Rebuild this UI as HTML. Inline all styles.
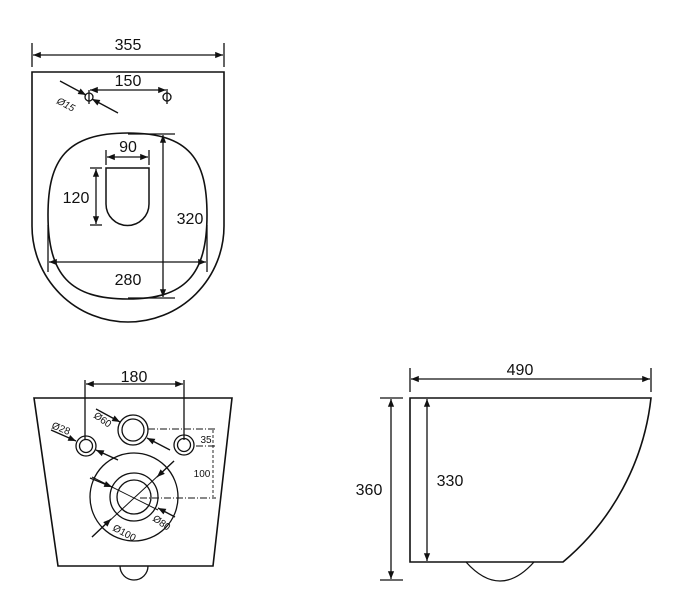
<!DOCTYPE html>
<html><head><meta charset="utf-8"><style>body{margin:0;background:#fff}svg{display:block}</style></head><body>
<svg width="685" height="600" viewBox="0 0 685 600" xmlns="http://www.w3.org/2000/svg" font-family="Liberation Sans, sans-serif" fill="none" stroke="#111" stroke-width="1.3">
<defs><marker id="a" viewBox="0 0 10 10" refX="10" refY="5" markerWidth="8" markerHeight="6" orient="auto-start-reverse"><path d="M0,1 L10,5 L0,9 z" fill="#111" stroke="none"/></marker></defs>
<path d="M32,72 H224 V226 A96,96 0 0 1 32,226 Z" stroke-width="1.6"/>
<line x1="32" y1="43" x2="32" y2="67"/><line x1="224" y1="43" x2="224" y2="67"/>
<line x1="33" y1="55" x2="223" y2="55" marker-start="url(#a)" marker-end="url(#a)"/>
<text x="128" y="50" font-size="16" fill="#111" stroke="none" text-anchor="middle">355</text>
<circle cx="89" cy="97" r="4"/><line x1="89" y1="90" x2="89" y2="104"/>
<circle cx="167" cy="97" r="4"/><line x1="167" y1="89" x2="167" y2="104"/>
<line x1="90" y1="90" x2="166" y2="90" marker-start="url(#a)" marker-end="url(#a)"/>
<text x="128" y="86" font-size="16" fill="#111" stroke="none" text-anchor="middle">150</text>
<line x1="60" y1="81" x2="86" y2="95" marker-end="url(#a)"/>
<line x1="118" y1="113" x2="92" y2="99" marker-end="url(#a)"/>
<text x="56" y="103" font-size="10" font-style="italic" fill="#111" stroke="none" transform="rotate(28 56 103)">Ø15</text>
<path d="M128,133 C190,133 207,160 207,215 C207,275 185,299 128,299 C70,299 48,275 48,215 C48,160 66,133 128,133 Z" stroke-width="1.6"/>
<line x1="128" y1="134" x2="175" y2="134"/><line x1="128" y1="298" x2="175" y2="298"/>
<line x1="163" y1="135" x2="163" y2="297" marker-start="url(#a)" marker-end="url(#a)"/>
<text x="190" y="224" font-size="16" fill="#111" stroke="none" text-anchor="middle">320</text>
<line x1="48" y1="225" x2="48" y2="272"/><line x1="207" y1="225" x2="207" y2="272"/>
<line x1="49" y1="262" x2="206" y2="262" marker-start="url(#a)" marker-end="url(#a)"/>
<text x="128" y="285" font-size="16" fill="#111" stroke="none" text-anchor="middle">280</text>
<path d="M106,168 H149 V204 A21.5,21.5 0 0 1 106,204 Z" stroke-width="1.5"/>
<line x1="106" y1="150" x2="106" y2="165"/><line x1="149" y1="150" x2="149" y2="165"/>
<line x1="107" y1="157" x2="148" y2="157" marker-start="url(#a)" marker-end="url(#a)"/>
<text x="128" y="152" font-size="16" fill="#111" stroke="none" text-anchor="middle">90</text>
<line x1="90" y1="168" x2="102" y2="168"/><line x1="90" y1="225" x2="102" y2="225"/>
<line x1="96" y1="169" x2="96" y2="224" marker-start="url(#a)" marker-end="url(#a)"/>
<text x="76" y="203" font-size="16" fill="#111" stroke="none" text-anchor="middle">120</text>
<path d="M34,398 H232 L213,566 H58 Z" stroke-width="1.6"/>
<path d="M120,566 A14,14 0 0 0 148,566"/>
<line x1="85" y1="380" x2="85" y2="440"/><line x1="184" y1="380" x2="184" y2="440"/>
<line x1="86" y1="384" x2="183" y2="384" marker-start="url(#a)" marker-end="url(#a)"/>
<text x="134" y="382" font-size="16" fill="#111" stroke="none" text-anchor="middle">180</text>
<circle cx="86" cy="446" r="10"/><circle cx="86" cy="446" r="6.5"/>
<circle cx="184" cy="445" r="10"/><circle cx="184" cy="445" r="6.5"/>
<circle cx="133" cy="430" r="15"/><circle cx="133" cy="430" r="11"/>
<circle cx="134" cy="497" r="44"/><circle cx="134" cy="497" r="24"/><circle cx="134" cy="497" r="17"/>
<line x1="51" y1="430" x2="76" y2="441" marker-end="url(#a)"/><line x1="118" y1="460" x2="96" y2="450" marker-end="url(#a)"/>
<text x="51" y="428" font-size="10" fill="#111" stroke="none" transform="rotate(22 51 428)">Ø28</text>
<line x1="96" y1="409" x2="120" y2="422" marker-end="url(#a)"/><line x1="170" y1="450" x2="147" y2="438" marker-end="url(#a)"/>
<text x="93" y="417" font-size="10" fill="#111" stroke="none" transform="rotate(35 93 417)">Ø60</text>
<line x1="92" y1="477" x2="158" y2="510" stroke-width="1"/>
<line x1="90" y1="478" x2="112" y2="487" marker-end="url(#a)"/>
<line x1="175" y1="517" x2="158" y2="508" marker-end="url(#a)"/>
<text x="152" y="520" font-size="10" fill="#111" stroke="none" transform="rotate(35 152 520)">Ø80</text>
<line x1="92" y1="537" x2="174" y2="461" stroke-width="1"/>
<line x1="174" y1="461" x2="157" y2="477" marker-end="url(#a)"/>
<line x1="92" y1="537" x2="111" y2="519" marker-end="url(#a)"/>
<text x="112" y="530" font-size="10" fill="#111" stroke="none" transform="rotate(28 112 530)">Ø100</text>
<g stroke-width="0.9" stroke-dasharray="7,2,1,2">
<line x1="148" y1="429" x2="216" y2="429"/><line x1="196" y1="446" x2="216" y2="446"/>
<line x1="140" y1="498" x2="216" y2="498"/></g>
<line x1="213" y1="430" x2="213" y2="497" stroke-width="0.9" stroke-dasharray="3,2"/>
<text x="206" y="443" font-size="10" fill="#111" stroke="none" text-anchor="middle">35</text>
<text x="202" y="477" font-size="10" fill="#111" stroke="none" text-anchor="middle">100</text>
<path d="M410,398 H651 A250,250 0 0 1 563,562 H410 Z" stroke-width="1.6"/>
<path d="M466,562 Q500,600 534,562"/>
<line x1="410" y1="368" x2="410" y2="392"/><line x1="651" y1="368" x2="651" y2="392"/>
<line x1="411" y1="379" x2="650" y2="379" marker-start="url(#a)" marker-end="url(#a)"/>
<text x="520" y="375" font-size="16" fill="#111" stroke="none" text-anchor="middle">490</text>
<line x1="380" y1="398" x2="403" y2="398"/><line x1="380" y1="580" x2="403" y2="580"/>
<line x1="391" y1="399" x2="391" y2="579" marker-start="url(#a)" marker-end="url(#a)"/>
<text x="369" y="495" font-size="16" fill="#111" stroke="none" text-anchor="middle">360</text>
<line x1="427" y1="399" x2="427" y2="561" marker-start="url(#a)" marker-end="url(#a)"/>
<text x="450" y="486" font-size="16" fill="#111" stroke="none" text-anchor="middle">330</text>
</svg>
</body></html>
